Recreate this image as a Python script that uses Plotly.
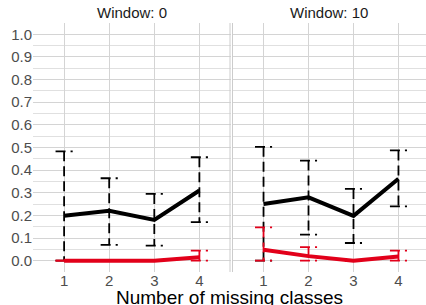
import plotly.graph_objects as go

# ---- data ----
classes = [1, 2, 3, 4]
windows = ["Window: 0", "Window: 10"]

# Window 0
w0_black_mean = [0.198, 0.220, 0.180, 0.310]
w0_black_low = [0.0, 0.070, 0.066, 0.170]
w0_black_high = [0.483, 0.364, 0.295, 0.457]
w0_red_mean = [0.0, 0.0, 0.0, 0.015]
w0_red_low = [0.0, 0.0, 0.0, 0.0]
w0_red_high = [0.0, 0.0, 0.0, 0.044]

# Window 10
w10_black_mean = [0.250, 0.280, 0.198, 0.362]
w10_black_low = [0.0, 0.115, 0.078, 0.240]
w10_black_high = [0.503, 0.442, 0.317, 0.487]
w10_red_mean = [0.048, 0.020, 0.0, 0.018]
w10_red_low = [0.0, 0.0, 0.0, 0.0]
w10_red_high = [0.147, 0.060, 0.0, 0.044]

y_ticks = [0.0, 0.1, 0.2, 0.3, 0.4, 0.5, 0.6, 0.7, 0.8, 0.9, 1.0]

BLACK = "#000000"
RED = "#e2001a"
CAP = 0.19
DASH = "10px,5px"
FONT = "Liberation Sans, Arial, sans-serif"


def errorbar_xy(xs, lo, hi):
    X, Y = [], []
    for x, l, h in zip(xs, lo, hi):
        X += [x - CAP, x + CAP, None, x, x, None, x - CAP, x + CAP, None]
        Y += [h, h, None, h, l, None, l, l, None]
    return X, Y


fig = go.Figure()

panels = [
    ("x", "y", w0_black_mean, w0_black_low, w0_black_high, w0_red_mean, w0_red_low, w0_red_high),
    ("x2", "y2", w10_black_mean, w10_black_low, w10_black_high, w10_red_mean, w10_red_low, w10_red_high),
]

for xa, ya, bm, bl, bh, rm, rl, rh in panels:
    ex, ey = errorbar_xy(classes, bl, bh)
    fig.add_trace(go.Scatter(x=ex, y=ey, xaxis=xa, yaxis=ya, mode="lines",
                             line=dict(color=BLACK, width=1.8, dash=DASH),
                             connectgaps=False, showlegend=False, hoverinfo="skip"))
    ex, ey = errorbar_xy(classes, rl, rh)
    fig.add_trace(go.Scatter(x=ex, y=ey, xaxis=xa, yaxis=ya, mode="lines",
                             line=dict(color=RED, width=1.8, dash=DASH),
                             connectgaps=False, showlegend=False, hoverinfo="skip"))
    fig.add_trace(go.Scatter(x=classes, y=bm, xaxis=xa, yaxis=ya, mode="lines",
                             line=dict(color=BLACK, width=4), showlegend=False))
    fig.add_trace(go.Scatter(x=classes, y=rm, xaxis=xa, yaxis=ya, mode="lines",
                             line=dict(color=RED, width=4), showlegend=False))

W, H = 426, 305
L, R, T, B = 33, 0, 23, 33
pw = W - L - R
P1_END = 230.5
P2_START = 232.5

grid_major = "#d4d4d4"
grid_minor = "#e0e0e0"
tickfont = dict(family=FONT, size=15, color="#4d4d4d")

xcommon = dict(tickvals=classes, ticktext=[str(c) for c in classes], showgrid=True,
               gridcolor=grid_major, gridwidth=1.1, zeroline=False, showline=False,
               ticks="", tickfont=tickfont, ticklabelstandoff=-2)

fig.update_layout(
    width=W, height=H,
    margin=dict(l=L, r=R, t=T, b=B, autoexpand=False),
    paper_bgcolor="white", plot_bgcolor="white",
    font=dict(family=FONT, size=15),
    xaxis=dict(domain=[0, (P1_END - L) / pw], range=[0.31, 4.69], **xcommon),
    xaxis2=dict(domain=[(P2_START - L) / pw, 1], range=[0.31, 4.69 - 3.5 / 45], anchor="y2", **xcommon),
    yaxis=dict(range=[-0.0502, 1.0502], tickvals=y_ticks, ticktext=[f"{v:.1f}" for v in y_ticks],
               showgrid=True, gridcolor=grid_major, gridwidth=1.1, zeroline=False, showline=False,
               ticks="", tickfont=tickfont,
               minor=dict(dtick=0.05, tick0=0.0, showgrid=True, gridcolor=grid_minor, gridwidth=0.8)),
    yaxis2=dict(range=[-0.0502, 1.0502], anchor="x2", matches="y", showticklabels=False,
                tickvals=y_ticks, showgrid=True, gridcolor=grid_major, gridwidth=1.1,
                zeroline=False, showline=False, ticks="",
                minor=dict(dtick=0.05, tick0=0.0, showgrid=True, gridcolor=grid_minor, gridwidth=0.8)),
)

# panel edge lines between facets
for px in (P1_END - 0.5, P2_START):
    fig.add_shape(type="line", xref="paper", yref="paper", x0=(px - L) / pw, x1=(px - L) / pw,
                  y0=0, y1=1, line=dict(color="#cccccc", width=1))

# strip titles
for i, ref in enumerate(["x domain", "x2 domain"]):
    fig.add_annotation(text=windows[i], xref=ref, yref="paper", x=0.5, y=1.0,
                       yanchor="bottom", yshift=0, showarrow=False,
                       font=dict(family=FONT, size=15, color="#1a1a1a"))

# x axis title
fig.add_annotation(text="Number of missing classes", xref="paper", yref="paper",
                   x=0.5, y=-0.104, yanchor="middle", showarrow=False,
                   font=dict(family=FONT, size=19, color="#000000"))

fig.write_html("out.html", config={"displayModeBar": False},
               post_script="document.body.style.margin='0';")
